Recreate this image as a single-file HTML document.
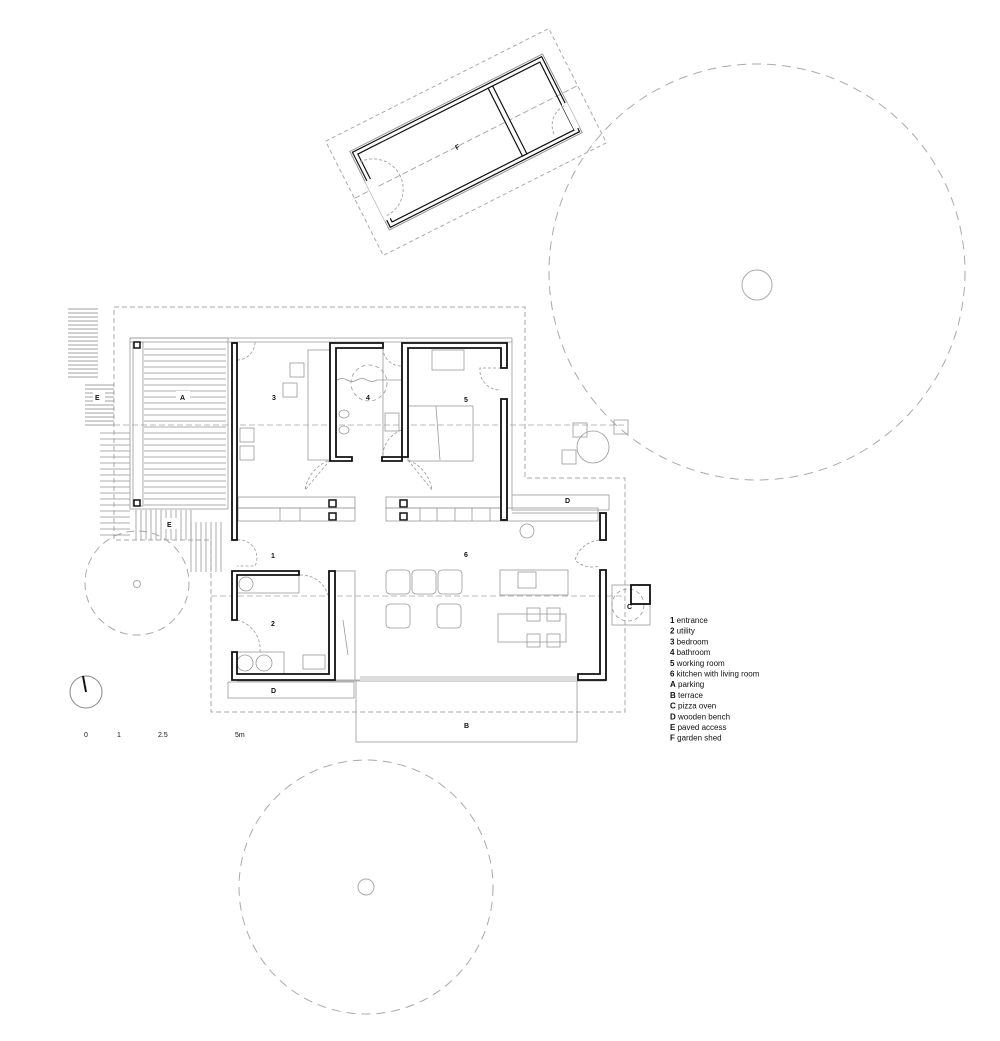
<!DOCTYPE html>
<html><head><meta charset="utf-8"><style>
html,body{margin:0;padding:0;background:#fff;}
svg{display:block;}
text{font-family:"Liberation Sans",sans-serif;fill:#111;}
</style></head><body>
<svg width="1000" height="1041" viewBox="0 0 1000 1041" xmlns="http://www.w3.org/2000/svg">
<defs>
<pattern id="hz" width="10" height="4" patternUnits="userSpaceOnUse"><line x1="0" y1="1" x2="10" y2="1" stroke="#888" stroke-width="0.8"/></pattern>
<pattern id="hz2" width="10" height="6" patternUnits="userSpaceOnUse"><line x1="0" y1="1" x2="10" y2="1" stroke="#999" stroke-width="0.8"/></pattern>
<pattern id="vt" width="5" height="10" patternUnits="userSpaceOnUse"><line x1="1" y1="0" x2="1" y2="10" stroke="#999" stroke-width="0.8"/></pattern>
</defs>
<g fill="none" stroke="#aaa" stroke-width="1">
<!-- big trees -->
<circle cx="757" cy="272" r="208" stroke-dasharray="9,6"/>
<circle cx="757" cy="285" r="15"/>
<circle cx="366" cy="887" r="127" stroke-dasharray="9,6"/>
<circle cx="366" cy="887" r="8"/>
<circle cx="137" cy="583" r="52" stroke-dasharray="8,5"/>
<circle cx="137" cy="584" r="3.5"/>
<!-- site dashed boundary -->
<path d="M114 307 H525 V478 H625 V712 H211 V540 H114 Z" stroke-dasharray="5,3"/>
<line x1="114" y1="425" x2="625" y2="425" stroke-dasharray="6,3" stroke="#bbb"/>
<line x1="211" y1="596" x2="625" y2="596" stroke-dasharray="6,3" stroke="#bbb"/>
</g>
<!-- E hatching -->
<rect x="68" y="307" width="30" height="72" fill="url(#hz)"/>
<rect x="85" y="383" width="29" height="45" fill="url(#hz)"/>
<rect x="100" y="430" width="30" height="110" fill="url(#hz2)"/>
<rect x="133" y="510" width="60" height="30" fill="url(#vt)"/>
<rect x="190" y="522" width="35" height="50" fill="url(#vt)"/>
<rect x="93" y="392" width="12" height="10" fill="#fff"/>
<rect x="163" y="518" width="14" height="11" fill="#fff"/>
<!-- parking A -->
<g fill="none" stroke="#999" stroke-width="0.8">
<rect x="130" y="338" width="98" height="171"/>
<rect x="133" y="342" width="10" height="164"/>
<line x1="130" y1="338" x2="512" y2="338"/>
<line x1="130" y1="342" x2="512" y2="342"/>
<line x1="512" y1="338" x2="512" y2="495"/>
</g>
<rect x="144" y="346" width="82" height="160" fill="url(#hz2)"/>
<rect x="176" y="391" width="14" height="11" fill="#fff"/>
<g fill="#fff" stroke="#111" stroke-width="1.5">
<rect x="134" y="342" width="6" height="6"/><rect x="134" y="500" width="6" height="6"/>
<rect x="329" y="500" width="7" height="7"/><rect x="329" y="513" width="7" height="7"/>
<rect x="400" y="500" width="7" height="7"/><rect x="400" y="513" width="7" height="7"/>
</g>
<!-- thin interior lines / furniture -->
<g fill="none" stroke="#999" stroke-width="0.8">
<rect x="238" y="497" width="117" height="11"/><rect x="238" y="508" width="117" height="13"/>
<rect x="386" y="497" width="115" height="11"/><rect x="386" y="508" width="212" height="13"/>
<line x1="420" y1="508" x2="420" y2="521"/><line x1="437" y1="508" x2="437" y2="521"/><line x1="455" y1="508" x2="455" y2="521"/><line x1="472" y1="508" x2="472" y2="521"/><line x1="490" y1="508" x2="490" y2="521"/>
<line x1="280" y1="508" x2="280" y2="521"/><line x1="300" y1="508" x2="300" y2="521"/>
<circle cx="527" cy="531" r="7"/>
<rect x="512" y="495" width="97" height="15"/>
<line x1="512" y1="513" x2="606" y2="513"/>
<rect x="228" y="682" width="126" height="16"/>
<rect x="356" y="680" width="221" height="62"/>
<line x1="237" y1="681" x2="606" y2="681"/>
<rect x="335" y="571" width="20" height="109"/>
<line x1="343" y1="620" x2="348" y2="655"/>
<!-- bedroom 3 -->
<rect x="308" y="350" width="22" height="110"/>
<rect x="290" y="363" width="14" height="14"/><rect x="283" y="383" width="14" height="14"/>
<rect x="240" y="428" width="14" height="14"/><rect x="240" y="446" width="14" height="14"/>
<!-- bath -->
<circle cx="369" cy="383" r="18" stroke-dasharray="4,3"/>
<path d="M337 380 q5 -3 10 0 t10 0 t10 0 t10 0" />
<line x1="377" y1="380" x2="402" y2="380"/>
<ellipse cx="344" cy="414" rx="5" ry="4"/><ellipse cx="344" cy="430" rx="5" ry="4"/>
<rect x="385" y="413" width="14" height="18"/>
<line x1="383" y1="348" x2="383" y2="460"/>
<!-- room 5 -->
<rect x="432" y="350" width="32" height="20"/>
<rect x="408" y="406" width="65" height="55"/>
<line x1="436" y1="406" x2="440" y2="460"/>
<!-- living -->
<rect x="386" y="570" width="24" height="24" rx="4"/><rect x="412" y="570" width="24" height="24" rx="4"/><rect x="438" y="570" width="24" height="24" rx="4"/>
<rect x="386" y="604" width="24" height="24" rx="4"/><rect x="437" y="604" width="24" height="24" rx="4"/>
<rect x="500" y="570" width="68" height="25"/><rect x="518" y="572" width="18" height="16"/>
<rect x="498" y="614" width="68" height="28"/>
<rect x="527" y="608" width="13" height="13"/><rect x="547" y="608" width="13" height="13"/>
<rect x="527" y="634" width="13" height="13"/><rect x="547" y="634" width="13" height="13"/>
<!-- utility -->
<rect x="237" y="575" width="62" height="18"/><circle cx="246" cy="584" r="7"/>
<rect x="237" y="652" width="47" height="22"/><circle cx="245" cy="663" r="8"/><circle cx="264" cy="663" r="8"/>
<rect x="303" y="655" width="22" height="14"/>
<!-- pizza oven C -->
<rect x="612" y="585" width="38" height="40"/>
<circle cx="628" cy="605" r="16" stroke-dasharray="4,3"/>
<!-- nearby tree small -->
<circle cx="593" cy="447" r="16"/>
<rect x="573" y="423" width="14" height="14"/><rect x="562" y="450" width="14" height="14"/><rect x="614" y="420" width="14" height="14"/>
</g>
<rect x="360" y="676" width="217" height="5" fill="#ddd"/>
<!-- door swings -->
<g fill="none" stroke="#999" stroke-width="0.8" stroke-dasharray="3,2">
<path d="M237 360 A18 18 0 0 0 255 342"/>
<path d="M330 460 L305 490 A38 38 0 0 1 330 460"/>
<path d="M408 460 L432 490 A38 38 0 0 0 408 460"/>
<path d="M383 460 A28 28 0 0 1 402 430"/>
<path d="M383 348 A18 18 0 0 0 401 366"/>
<path d="M501 368 H480 A20 20 0 0 0 501 390"/>
<path d="M237 540 A18 18 0 0 1 255 566 H237"/>
<path d="M300 575 A28 28 0 0 1 329 600"/>
<path d="M237 620 A30 30 0 0 1 260 652"/>
<path d="M599 540 A28 28 0 0 0 575 560 A24 24 0 0 0 599 566"/>
</g>
<!-- walls -->
<g fill="#fff" stroke="#111" stroke-width="1.8">
<rect x="232" y="343" width="5" height="197"/>
<path d="M330 343 H383 V348 H336 V457 H352 V461 H330 Z"/>
<path d="M402 343 H507 V368 H501 V348 H408 V457 H382 V461 H402 Z"/>
<rect x="501" y="399" width="6" height="121"/>
<rect x="600" y="513" width="6" height="27"/>
<path d="M600 570 H606 V680 H578 V674 H600 Z"/>
<path d="M232 571 H299 V575 H237 V620 H232 Z"/>
<path d="M232 652 H237 V674 H329 V571 H335 V680 H232 Z"/>
<rect x="631" y="585" width="19" height="19" fill="none"/>
</g>
<!-- shed -->
<g transform="translate(466,142) rotate(-26.8)">
<rect x="-125" y="-64" width="250" height="128" fill="none" stroke="#aaa" stroke-dasharray="4,3"/>
<line x1="-125" y1="0" x2="125" y2="0" stroke="#aaa" stroke-dasharray="6,3"/>
<rect x="-108" y="-44" width="216" height="88" fill="none" stroke="#999"/>
<rect x="-106" y="-42" width="212" height="84" fill="none" stroke="#111" stroke-width="1.2"/>
<rect x="-102" y="-38" width="204" height="76" fill="none" stroke="#111" stroke-width="1.2"/>
<rect x="30" y="-38" width="0" height="76" stroke="#999"/>
<rect x="68" y="-38" width="0" height="76" stroke="#999"/>
<rect x="44" y="-38" width="5" height="76" fill="#fff" stroke="#111" stroke-width="1.2"/>
<rect x="102" y="10" width="6" height="28" fill="#fff"/>
<rect x="-108" y="-10" width="8" height="44" fill="#fff"/>
<path d="M-104 -30 A30 30 0 0 1 -74 0 M-104 30 A30 30 0 0 0 -74 0 M104 12 A22 22 0 0 0 82 34" fill="none" stroke="#aaa" stroke-dasharray="3,2"/>
<text x="-12" y="3" font-size="7" font-weight="bold">F</text>
</g>
<!-- labels -->
<g font-size="7" font-weight="bold">
<text x="272" y="400">3</text><text x="366" y="400">4</text><text x="464" y="402">5</text>
<text x="180" y="400">A</text><text x="95" y="400">E</text><text x="167" y="527">E</text>
<text x="271" y="558">1</text><text x="464" y="557">6</text><text x="271" y="626">2</text>
<text x="271" y="693">D</text><text x="464" y="728">B</text><text x="565" y="503">D</text>
<text x="627" y="609">C</text>
</g>
<!-- north arrow and scale -->
<circle cx="86" cy="692" r="16" fill="none" stroke="#888"/>
<line x1="83" y1="676" x2="86" y2="692" stroke="#111" stroke-width="2"/>
<g font-size="7">
<text x="84" y="737">0</text><text x="117" y="737">1</text><text x="158" y="737">2.5</text><text x="235" y="737">5m</text>
</g>
<g font-size="8">
<text x="670" y="623"><tspan font-weight="bold">1</tspan>  entrance</text>
<text x="670" y="633.7"><tspan font-weight="bold">2</tspan>  utility</text>
<text x="670" y="644.4"><tspan font-weight="bold">3</tspan>  bedroom</text>
<text x="670" y="655.1"><tspan font-weight="bold">4</tspan>  bathroom</text>
<text x="670" y="665.8"><tspan font-weight="bold">5</tspan>  working room</text>
<text x="670" y="676.5"><tspan font-weight="bold">6</tspan>  kitchen with living room</text>
<text x="670" y="687.2"><tspan font-weight="bold">A</tspan>  parking</text>
<text x="670" y="697.9"><tspan font-weight="bold">B</tspan>  terrace</text>
<text x="670" y="708.6"><tspan font-weight="bold">C</tspan>  pizza oven</text>
<text x="670" y="719.3"><tspan font-weight="bold">D</tspan>  wooden bench</text>
<text x="670" y="730"><tspan font-weight="bold">E</tspan>  paved access</text>
<text x="670" y="740.7"><tspan font-weight="bold">F</tspan>  garden shed</text>
</g>
</svg>
</body></html>
